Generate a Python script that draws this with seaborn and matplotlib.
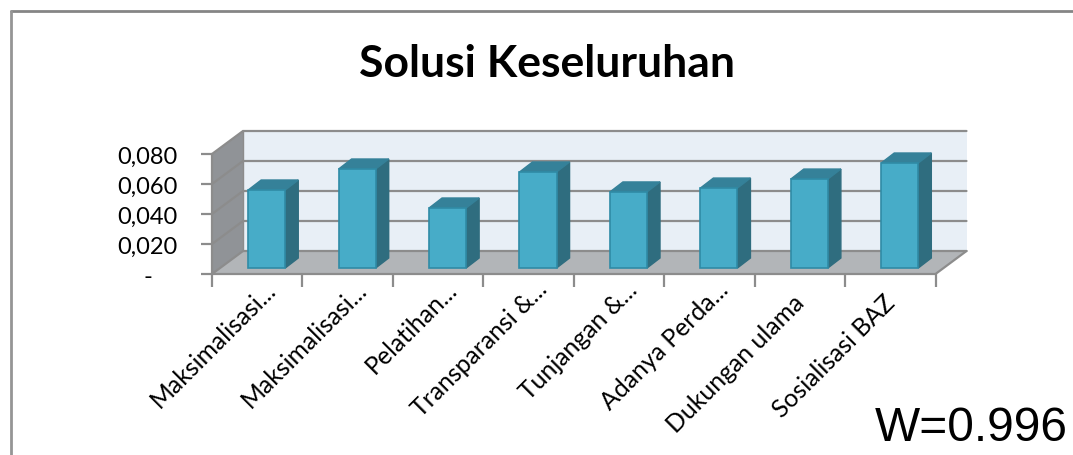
import matplotlib
matplotlib.use('Agg')
import matplotlib.pyplot as plt
import pandas as pd
import seaborn as sns
from matplotlib.lines import Line2D
from matplotlib.patches import Polygon
from matplotlib.transforms import ScaledTranslation

categories = ['Maksimalisasi...', 'Maksimalisasi...', 'Pelatihan...', 'Transparansi &...',
              'Tunjangan &...', 'Adanya Perda...', 'Dukungan ulama', 'Sosialisasi BAZ']
bobot = [0.052, 0.066, 0.040, 0.064, 0.0507, 0.0533, 0.0593, 0.070]
y_ticks = [0, 0.02, 0.04, 0.06, 0.08]
y_labels = ['-    ', '0,020', '0,040', '0,060', '0,080']

W, H = 1073, 456
sns.set_theme(style='white')
plt.rcParams['font.family'] = ['Lato', 'DejaVu Sans']

fig = plt.figure(figsize=(W / 100, H / 100), dpi=100)
# front plane of the fake 3d box, in pixels
left, right, zero, top = 212, 935.5, 275, 155
ax = fig.add_axes([left / W, 1 - zero / H, (right - left) / W, (zero - top) / H])

df = pd.DataFrame({'kategori': categories, 'bobot': bobot})
sns.barplot(data=df, x=list(range(len(categories))), y='bobot', color='#47acc8', saturation=1, width=0.41,
            native_scale=True, ax=ax, zorder=5)
ax.set_xlim(-0.5, 7.5)
ax.set_ylim(0, 0.08)
ax.set_xlabel('')
ax.set_ylabel('')
ax.patch.set_alpha(0)
sns.despine(ax=ax, left=True, bottom=True)

# depth of the box and of the bars, in data units
px_x = (right - left) / 8
px_y = (zero - top) / 0.08
depth_x, depth_y = 31 / px_x, 23 / px_y
bar_dx, bar_dy = 9.5 / px_x, 6 / px_y
side_x, side_y = 13 / px_x, 10 / px_y


def poly(points, color, z, edge='none'):
    ax.add_patch(Polygon(points, closed=True, facecolor=color, edgecolor=edge, linewidth=1,
                         zorder=z, clip_on=False))


x0, x1 = ax.get_xlim()
ymax = y_ticks[-1]
poly([(x0 + depth_x, depth_y), (x1 + depth_x, depth_y), (x1 + depth_x, ymax + depth_y), (x0 + depth_x, ymax + depth_y)], '#e8eff6', 1)
poly([(x0, 0), (x0 + depth_x, depth_y), (x0 + depth_x, ymax + depth_y), (x0, ymax)], '#909397', 1)
poly([(x0, 0), (x1, 0), (x1 + depth_x, depth_y), (x0 + depth_x, depth_y)], '#b2b5b8', 1)

grid = '#8c8c8c'
for v in y_ticks:
    ax.plot([x0, x0 + depth_x, x1 + depth_x], [v, v + depth_y, v + depth_y], color=grid, lw=1.6,
            zorder=2, clip_on=False, solid_joinstyle='miter')
ax.plot([x0, x0], [0, ymax], color=grid, lw=1.6, zorder=3, clip_on=False)
ax.plot([x0 + depth_x, x0 + depth_x], [0 + depth_y, ymax + depth_y], color=grid, lw=1, zorder=2, clip_on=False)
ax.plot([x0, x1, x1 + depth_x], [0, 0, depth_y], color=grid, lw=1.6, zorder=3, clip_on=False)

# push the bars into the middle of the box and add their side and top
for bar in ax.patches[:len(categories)]:
    bar.set_x(bar.get_x() + bar_dx)
    bar.set_y(bar_dy)
    bar.set_edgecolor('#2f8ba6')
    bar.set_linewidth(1.2)
    bar.set_clip_on(False)
    a, b = bar.get_x(), bar.get_x() + bar.get_width()
    low, high = bar.get_y(), bar.get_y() + bar.get_height()
    poly([(b, low), (b + side_x, low + side_y), (b + side_x, high + side_y), (b, high)], '#2f6d7f', 4, '#2f6d7f')
    poly([(a, high), (b, high), (b + side_x, high + side_y), (a + side_x, high + side_y)], '#358199', 4, '#358199')

ax.set_yticks(y_ticks, y_labels, fontsize=17, color='black')
ax.set_xticks(list(range(len(categories))), categories, fontsize=17.8, color='black')
ax.set_xticks([i - 0.5 for i in range(len(categories) + 1)], minor=True)
ax.tick_params(axis='y', length=8, width=1.6, color=grid, left=True, pad=17)
ax.tick_params(axis='x', which='major', length=0, pad=10)
ax.tick_params(axis='x', which='minor', length=9, width=1.6, color=grid, bottom=True)
for lab, name in zip(ax.get_xticklabels(), categories):
    lab.set_rotation(45)
    lab.set_rotation_mode('anchor')
    lab.set_ha('right')
    lab.set_va('center')
    # labels cut with dots sit a bit further along than the whole ones
    if name.endswith('...'):
        shift = ScaledTranslation(15 / 100, 3 / 100, fig.dpi_scale_trans)
    else:
        shift = ScaledTranslation(1 / 100, -10 / 100, fig.dpi_scale_trans)
    lab.set_transform(lab.get_transform() + shift)

fig.text(547 / W, 1 - 77 / H, 'Solusi Keseluruhan', fontsize=32, fontweight='bold', color='black', ha='center', va='baseline')
fig.text(1068 / W, 1 - 441 / H, 'W=0.996', fontsize=34.5, family='Liberation Sans', color='black', ha='right', va='baseline')

# frame of the pasted chart: top and left only
fig.add_artist(Line2D([11 / W, 1], [1 - 12 / H, 1 - 12 / H], color='#858585', lw=2))
fig.add_artist(Line2D([11 / W, 11 / W], [0, 1 - 12 / H], color='#959595', lw=2))

fig.savefig('out.png', dpi=100)
